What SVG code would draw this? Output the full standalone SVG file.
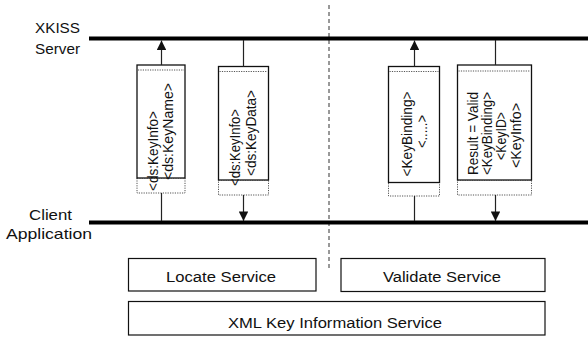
<svg xmlns="http://www.w3.org/2000/svg" width="588" height="338" viewBox="0 0 588 338">
<defs>
<style>
.lbl{font-family:"Liberation Sans",Arial,sans-serif;font-size:15px;fill:#111}
.rt{font-family:"Liberation Sans",Arial,sans-serif;font-size:14.5px;fill:#111}
.box{fill:#fff;stroke:#111;stroke-width:1.3}
.dot{fill:none;stroke:#555;stroke-width:1;stroke-dasharray:1.2 1.2}
.bus{stroke:#000;stroke-width:4}
.con{stroke:#222;stroke-width:1.2;fill:none}
.svc{fill:#fff;stroke:#111;stroke-width:1.2}
.svt{font-family:"Liberation Sans",Arial,sans-serif;font-size:15.5px;fill:#111;text-anchor:middle}
</style>
<marker id="ah" viewBox="0 0 10 10" refX="10" refY="5" markerWidth="10" markerHeight="9.5" markerUnits="userSpaceOnUse" orient="auto">
<path d="M0,0 L10,5 L0,10 Z" fill="#111"/>
</marker>
</defs>
<rect width="588" height="338" fill="#fff"/>

<g id="separator">
<line x1="329" y1="5" x2="329" y2="270" stroke="#333" stroke-width="1" stroke-dasharray="4 3"/>
</g>

<g id="xkiss-server">
<text class="lbl" x="35" y="33" textLength="45" lengthAdjust="spacingAndGlyphs">XKISS</text>
<text class="lbl" x="35" y="54" textLength="45" lengthAdjust="spacingAndGlyphs">Server</text>
<line class="bus" x1="89" y1="38.5" x2="588" y2="38.5"/>
</g>

<g id="client-application">
<text class="lbl" x="29" y="220" textLength="43" lengthAdjust="spacingAndGlyphs">Client</text>
<text class="lbl" x="6" y="239" textLength="86" lengthAdjust="spacingAndGlyphs">Application</text>
<line class="bus" x1="89" y1="222.5" x2="588" y2="222.5"/>
</g>

<g id="msg-locate-request">
<rect class="dot" x="137" y="178" width="48" height="15"/>
<rect class="box" x="137" y="65" width="48" height="113"/>
<line class="dot" x1="138" y1="70" x2="184" y2="70"/>
<text class="rt" transform="translate(158,191) rotate(-90)" textLength="80" lengthAdjust="spacingAndGlyphs">&lt;ds:KeyInfo&gt;</text>
<text class="rt" transform="translate(173,180) rotate(-90)" textLength="97" lengthAdjust="spacingAndGlyphs">&lt;ds:KeyName&gt;</text>
</g>

<g id="msg-locate-response">
<rect class="dot" x="218.5" y="180" width="50" height="15"/>
<rect class="box" x="218.5" y="66.5" width="50" height="113.5"/>
<line class="dot" x1="219.5" y1="71.5" x2="267.5" y2="71.5"/>
<text class="rt" transform="translate(240,186) rotate(-90)" textLength="77" lengthAdjust="spacingAndGlyphs">&lt;ds:KeyInfo&gt;</text>
<text class="rt" transform="translate(256,176) rotate(-90)" textLength="86" lengthAdjust="spacingAndGlyphs">&lt;ds:KeyData&gt;</text>
</g>

<g id="msg-validate-request">
<rect class="dot" x="388.5" y="182.5" width="51" height="13.5"/>
<rect class="box" x="388.5" y="66.5" width="51" height="116"/>
<line class="dot" x1="389.5" y1="71.5" x2="438.5" y2="71.5"/>
<text class="rt" text-anchor="middle" transform="translate(412,134) rotate(-90)" textLength="85" lengthAdjust="spacingAndGlyphs">&lt;KeyBinding&gt;</text>
<text class="rt" text-anchor="middle" transform="translate(427,131.5) rotate(-90)" textLength="33" lengthAdjust="spacingAndGlyphs">&lt;.....&gt;</text>
</g>

<g id="msg-validate-response">
<rect class="dot" x="457.5" y="180" width="74" height="15"/>
<rect class="box" x="457.5" y="65" width="74" height="115"/>
<line class="dot" x1="458.5" y1="71" x2="530.5" y2="71"/>
<text class="rt" text-anchor="middle" transform="translate(478,133.5) rotate(-90)" textLength="83" lengthAdjust="spacingAndGlyphs">Result = Valid</text>
<text class="rt" text-anchor="middle" transform="translate(492,133.5) rotate(-90)" textLength="83" lengthAdjust="spacingAndGlyphs">&lt;KeyBinding&gt;</text>
<text class="rt" text-anchor="middle" transform="translate(506,136) rotate(-90)" textLength="48" lengthAdjust="spacingAndGlyphs">&lt;KeyID&gt;</text>
<text class="rt" text-anchor="middle" transform="translate(521,135.5) rotate(-90)" textLength="65" lengthAdjust="spacingAndGlyphs">&lt;KeyInfo&gt;</text>
</g>

<g id="connectors">
<line class="con" x1="161.5" y1="65" x2="161.5" y2="40.5" marker-end="url(#ah)"/>
<line class="con" x1="161.5" y1="193" x2="161.5" y2="221"/>
<line class="con" x1="243.5" y1="40" x2="243.5" y2="66.5"/>
<line class="con" x1="243.5" y1="195" x2="243.5" y2="221" marker-end="url(#ah)"/>
<line class="con" x1="414.5" y1="66.5" x2="414.5" y2="40.5" marker-end="url(#ah)"/>
<line class="con" x1="414.5" y1="196" x2="414.5" y2="221"/>
<line class="con" x1="495.5" y1="40" x2="495.5" y2="65"/>
<line class="con" x1="495.5" y1="195" x2="495.5" y2="221" marker-end="url(#ah)"/>
</g>

<g id="locate-service">
<rect class="svc" x="128.5" y="258.5" width="187.5" height="32.5"/>
<text class="svt" x="221" y="281.5" textLength="110" lengthAdjust="spacingAndGlyphs">Locate Service</text>
</g>

<g id="validate-service">
<rect class="svc" x="341" y="258.5" width="204" height="33"/>
<text class="svt" x="442" y="282" textLength="118" lengthAdjust="spacingAndGlyphs">Validate Service</text>
</g>

<g id="xml-key-information-service">
<rect class="svc" x="128.5" y="301.5" width="416.5" height="33.5"/>
<text class="svt" x="335" y="327.5" textLength="214" lengthAdjust="spacingAndGlyphs">XML Key Information Service</text>
</g>
</svg>
